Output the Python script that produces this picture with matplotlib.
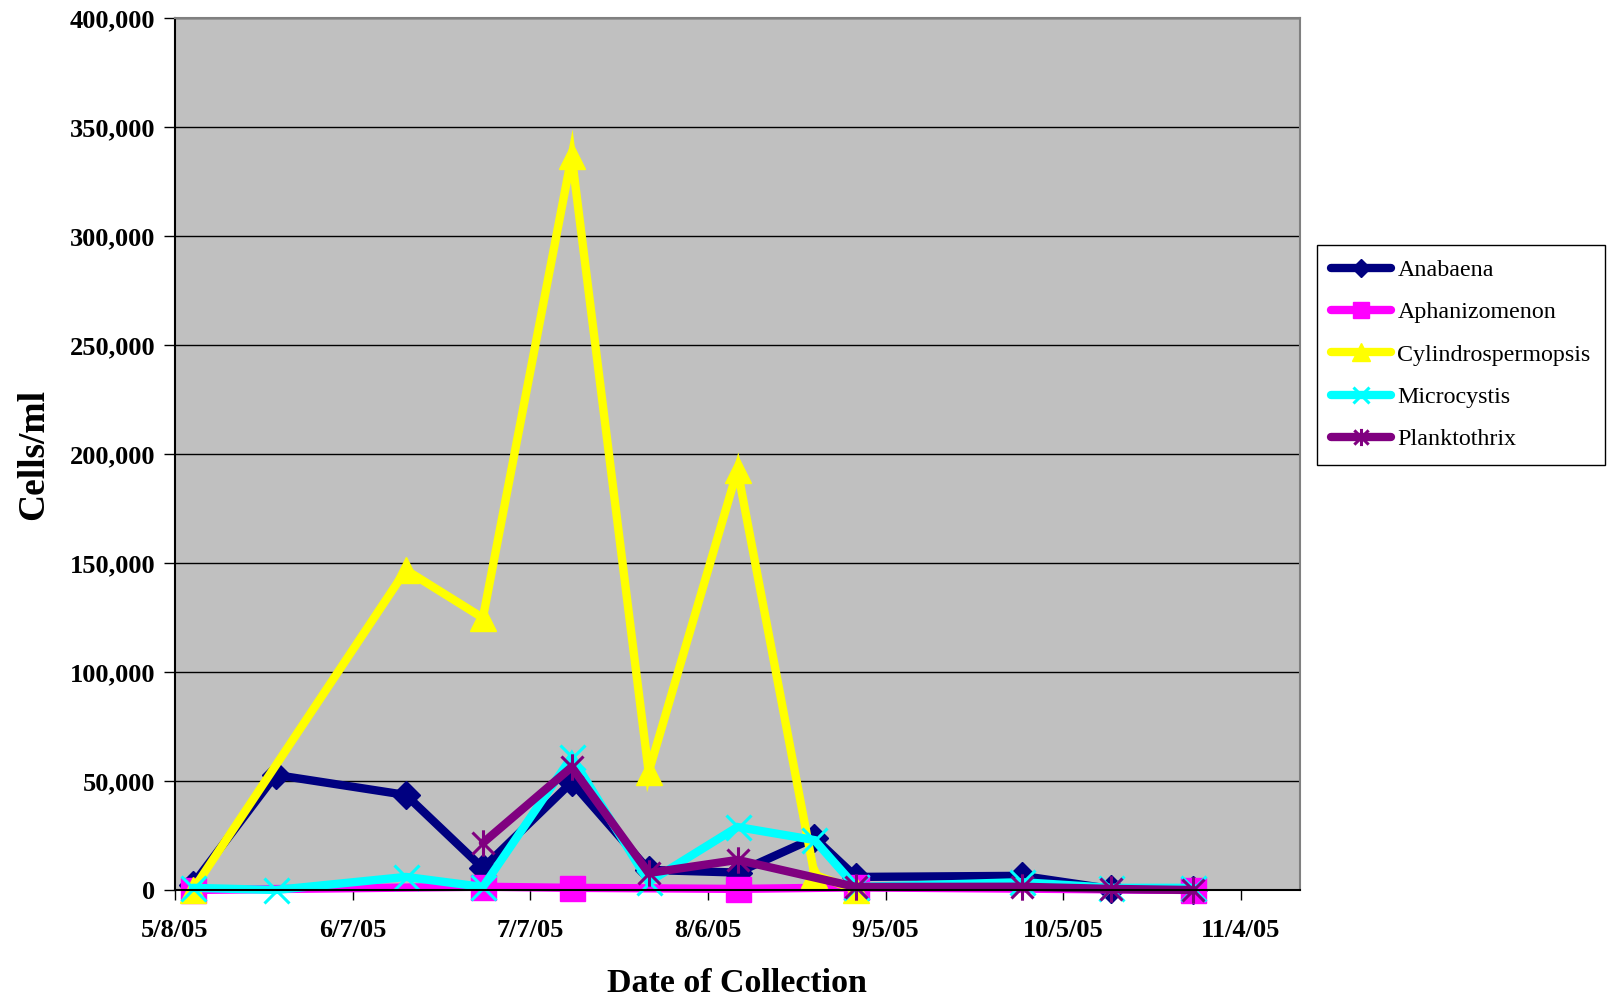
import numpy as np
import pandas as pd
import matplotlib
matplotlib.use("Agg")
import matplotlib.pyplot as plt
from matplotlib.path import Path
from matplotlib.ticker import FuncFormatter

nan = np.nan
dates = pd.to_datetime([
    "2005-05-11", "2005-05-25", "2005-06-16", "2005-06-29", "2005-07-14", "2005-07-27",
    "2005-08-11", "2005-08-24", "2005-08-31", "2005-09-28", "2005-10-13", "2005-10-27",
])
anabaena = [2500, 52800, 43600, 10000, 49500, 9200, 8000, 23900, 6000, 6500, 500, 0]
aphanizomenon = [0, nan, nan, 1500, 1000, nan, 500, nan, 1200, nan, nan, 0]
cylindrospermopsis = [0, nan, 146800, 124800, 336700, 54100, 192700, 7000, 0, nan, nan, nan]
microcystis = [1000, 0, 6000, 1400, 61000, 3700, 28900, 22900, 1400, 3600, 1000, 1000]
planktothrix = [nan, nan, nan, 21600, 56400, 7800, 13800, nan, 1400, 1500, 500, 0]

tick_dates = pd.date_range("2005-05-08", periods=7, freq="30D")

# Excel style star marker: X plus a vertical bar
star = Path(
    [(-1, -1), (1, 1), (-1, 1), (1, -1), (0, -1.2), (0, 1.2)],
    [Path.MOVETO, Path.LINETO, Path.MOVETO, Path.LINETO, Path.MOVETO, Path.LINETO],
)

series = [
    ("Anabaena", anabaena, "#000080", "D", 14, 1),
    ("Aphanizomenon", aphanizomenon, "#FF00FF", "s", 18, 1),
    ("Cylindrospermopsis", cylindrospermopsis, "#FFFF00", "^", 19, 1),
    ("Microcystis", microcystis, "#00FFFF", "x", 18, 2.2),
    ("Planktothrix", planktothrix, "#800080", star, 19, 2.2),
]

plt.rcParams["font.family"] = ["Liberation Serif", "DejaVu Serif"]

fig = plt.figure(figsize=(16.1, 9.98), dpi=100)
ax = fig.add_axes([175 / 1610, 1 - 890 / 998, 1125 / 1610, 872 / 998])
ax.set_facecolor("#C0C0C0")

for name, vals, color, marker, ms, mew in series:
    v = np.array(vals, dtype=float)
    ok = ~np.isnan(v)
    ax.plot(dates[ok], v[ok], color=color, lw=6, marker=marker, ms=ms,
            mfc=color, mec=color, mew=mew, label=name,
            solid_capstyle="round", solid_joinstyle="miter", clip_on=False)

ax.set_xlim(pd.Timestamp("2005-05-08"), pd.Timestamp("2005-11-14"))
ax.set_ylim(0, 400000)
ax.set_yticks(np.arange(0, 400001, 50000))
ax.yaxis.set_major_formatter(FuncFormatter(lambda v, p: f"{int(v):,}"))
ax.set_xticks(tick_dates)
ax.set_xticklabels([f"{d.month}/{d.day}/{d.strftime('%y')}" for d in tick_dates])
ax.grid(axis="y", color="black", lw=1)
ax.set_axisbelow(True)

for lab in ax.get_xticklabels() + ax.get_yticklabels():
    lab.set_fontweight("bold")
ax.tick_params(axis="y", direction="out", length=8, width=1, labelsize=19, pad=6)
ax.tick_params(axis="x", direction="out", length=7, width=1, labelsize=19, pad=14)
ax.spines["left"].set_color("black")
ax.spines["bottom"].set_color("black")
ax.spines["top"].set_color("#808080")
ax.spines["right"].set_color("#808080")
for s in ax.spines.values():
    s.set_linewidth(1.5)

fig.text(34 / 1610, 1 - 455 / 998, "Cells/ml", rotation=90, ha="center", va="center",
         fontsize=27, fontweight="bold")
fig.text(737 / 1610, 1 - 984 / 998, "Date of Collection", ha="center", va="center",
         fontsize=24.5, fontweight="bold")

leg = fig.legend(loc="upper left", bbox_to_anchor=(1317 / 1610, 1 - 245 / 998),
                 fontsize=17.3, frameon=True, fancybox=False, framealpha=1,
                 edgecolor="black", handlelength=2.5, handletextpad=0.25,
                 borderpad=0.6, labelspacing=0.85, markerscale=0.65, borderaxespad=0)
leg.get_frame().set_linewidth(1)

fig.savefig("out.png", dpi=100)
